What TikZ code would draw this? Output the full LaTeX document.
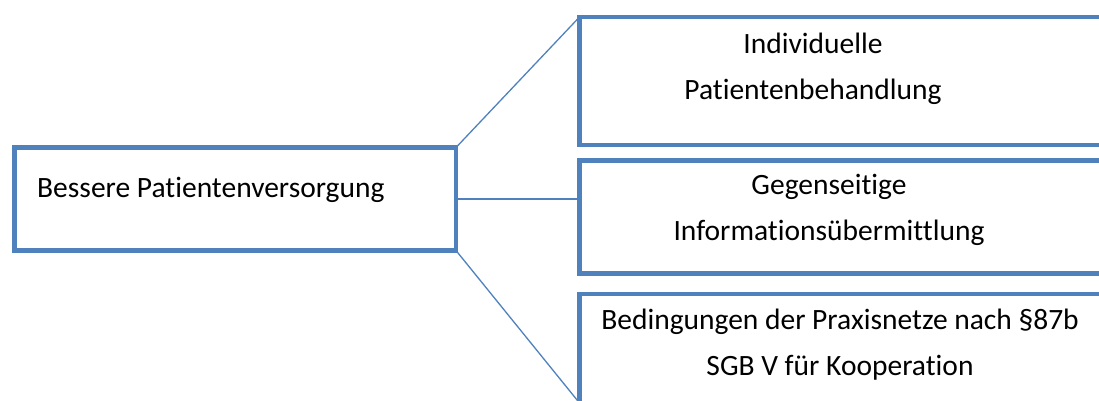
\documentclass[tikz,border=0pt]{standalone}
\usepackage{fontspec}
\setmainfont{Carlito}[Ligatures=NoCommon]
\usetikzlibrary{positioning}
\definecolor{officeblue}{HTML}{4F81BD}
\tikzset{
  box/.style={draw=officeblue, line width=4.5pt, outer sep=0pt, inner sep=0pt, anchor=north west},
  link/.style={draw=officeblue, line width=1.3pt},
  boxtext/.style={font=\fontsize{29.5}{46}\selectfont, align=center, inner sep=0pt}
}
\begin{document}
\begin{tikzpicture}[x=1pt,y=-1pt]
\clip (0,0) rectangle (1099,401);
% boxes
\node[box, minimum width=441.5pt, minimum height=103pt] (versorgung) at (14.5,147.5) {};
\node[box, minimum width=540pt, minimum height=128pt] (behandlung) at (579.5,17) {};
\node[box, minimum width=540pt, minimum height=113pt] (information) at (579.5,160.5) {};
\node[box, minimum width=540pt, minimum height=109pt] (kooperation) at (579.5,294) {};
% texts
\node[boxtext, anchor=base west] (versorgungtext) at (37,197) {Bessere Patientenversorgung};
\node[boxtext, anchor=base] (behandlungtext) at (813,100) {Individuelle\\Patientenbehandlung};
\node[boxtext, anchor=base] (informationtext) at (829,240) {Gegenseitige\\Informationsübermittlung};
\node[boxtext, anchor=base] (kooperationtext) at (840,375) {Bedingungen der Praxisnetze nach §87b\\SGB V für Kooperation};
% connectors
\draw[link] (versorgung.north east) -- (behandlung.north west);
\draw[link] (versorgung.east) -- (versorgung.east -| information.west);
\draw[link] (versorgung.south east) -- (kooperation.south west);
\end{tikzpicture}
\end{document}
